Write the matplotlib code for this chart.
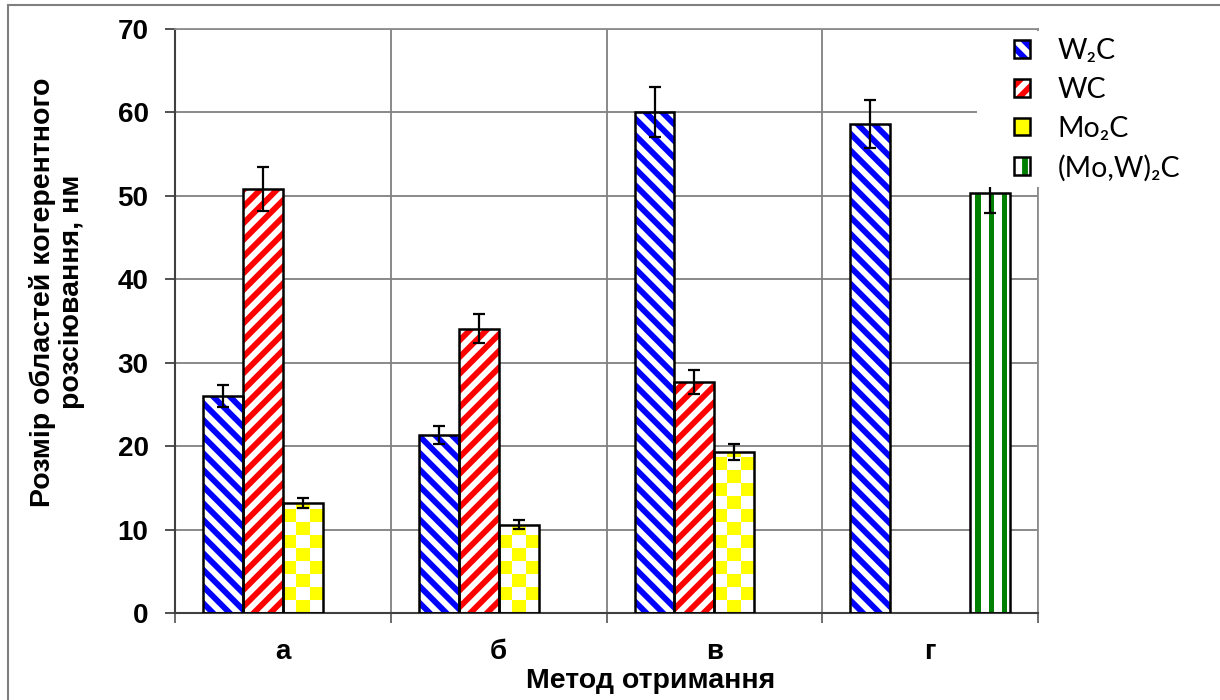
import numpy as np
import matplotlib
matplotlib.use("Agg")
import matplotlib.pyplot as plt
from matplotlib.patches import Rectangle
from matplotlib.colors import ListedColormap
from matplotlib.legend_handler import HandlerTuple

# розмір ОКР (нм) для кожного методу отримання
categories = ['а', 'б', 'в', 'г']
w2c = [26.0, 21.3, 60.0, 58.6]
w2c_err = [1.3, 1.1, 3.0, 2.9]
wc = [50.8, 34.1, 27.7, None]
wc_err = [2.6, 1.7, 1.4, None]
mo2c = [13.2, 10.6, 19.3, None]
mo2c_err = [0.6, 0.5, 1.0, None]
mow2c = [None, None, None, 50.4]
mow2c_err = [None, None, None, 2.5]

labels = ['W\u2082C', 'WC', 'Mo\u2082C', '(Mo,W)\u2082C']

plt.rcParams['font.family'] = ['Liberation Sans', 'DejaVu Sans']
plt.rcParams['hatch.linewidth'] = 4.2

fig = plt.figure(figsize=(12.2, 7), dpi=100)
ax = fig.add_axes([175 / 1220, 1 - 613 / 700, 863 / 1220, 584 / 700])

# рамка навколо діаграми
fig.patches.append(Rectangle((8 / 1220, -0.1), 1.2, 1 - 5 / 700 + 0.1,
                             transform=fig.transFigure, fill=False,
                             edgecolor='#7f7f7f', linewidth=1.5))

width = 0.185
x_pos = np.arange(len(categories))

series = [
    (w2c, w2c_err, '#0000ff', '\\\\'),
    (wc, wc_err, '#ff0000', '//'),
    (mo2c, mo2c_err, '#ffff00', 'checker'),
    (mow2c, mow2c_err, '#008000', 'vstripes'),
]


def textured(rect, arr, color, top):
    # заливка стовпчика візерунком, обрізаним по його контуру
    x0 = rect.get_x()
    im = ax.imshow(arr, extent=(x0, x0 + width, 0, top), origin='lower',
                   cmap=ListedColormap(['white', color]), vmin=0, vmax=1,
                   aspect='auto', interpolation='nearest', zorder=2)
    im.set_clip_path(rect)


cell_h = 1.55  # висота клітинки шахового візерунку
handles = []
for k, (vals, errs, color, hatch) in enumerate(series):
    idx = [i for i, v in enumerate(vals) if v is not None]
    x = x_pos[idx] + (k - 1.5) * width
    h = [vals[i] for i in idx]
    e = [errs[i] for i in idx]
    if hatch == 'checker':
        base = ax.bar(x, h, width, facecolor='white', linewidth=0, zorder=2)
        for rect in base.patches:
            nrows = int(np.ceil(rect.get_height() / cell_h))
            arr = np.add.outer(np.arange(nrows), np.arange(3)) % 2
            textured(rect, arr, color, nrows * cell_h)
        h1 = Rectangle((0, 0), 1, 1, facecolor=color, linewidth=0)
    elif hatch == 'vstripes':
        base = ax.bar(x, h, width, facecolor='white', linewidth=0, zorder=2)
        stripes = np.tile([0, 0, 1, 1, 0], 3)[None, :]
        for rect in base.patches:
            textured(rect, stripes, color, rect.get_height())
        h1 = Rectangle((0, 0), 1, 1, facecolor='white', edgecolor=color,
                       hatch='|', linewidth=0)
    else:
        ax.bar(x, h, width, facecolor='white', edgecolor=color, hatch=hatch,
               linewidth=0, zorder=2)
        h1 = Rectangle((0, 0), 1, 1, facecolor='white', edgecolor=color,
                       hatch=hatch, linewidth=0)
    ax.bar(x, h, width, fill=False, edgecolor='black', linewidth=1.8, zorder=3)
    ax.errorbar(x, h, yerr=e, fmt='none', ecolor='black', elinewidth=1.6,
                capsize=4, capthick=1.6, zorder=4)
    h2 = Rectangle((0, 0), 1, 1, fill=False, edgecolor='black', linewidth=1.8)
    handles.append((h1, h2))

ax.set_xlim(-0.5, 3.5)
ax.set_ylim(0, 70)
ax.set_yticks(np.arange(0, 71, 10))
ax.set_xticks(x_pos)
ax.set_xticklabels(categories)
ax.set_xticks(np.arange(-0.5, 4, 1), minor=True)
ax.tick_params(axis='x', which='major', length=0, pad=19, labelsize=20)
ax.tick_params(axis='x', which='minor', length=7, width=1.2, color='#555555')
ax.tick_params(axis='y', length=7, width=1.2, color='#333333', pad=12, labelsize=20)
for t in ax.get_xticklabels() + ax.get_yticklabels():
    t.set_fontweight('bold')

ax.yaxis.grid(True, color='#808080', linewidth=1.3)
ax.xaxis.grid(True, which='minor', color='#808080', linewidth=1.3)
ax.set_axisbelow(True)
for side in ['top', 'right']:
    ax.spines[side].set_color('#8c8c8c')
    ax.spines[side].set_linewidth(1.3)
for side in ['left', 'bottom']:
    ax.spines[side].set_color('#404040')
    ax.spines[side].set_linewidth(1.5)

ax.set_ylabel('Розмір областей когерентного\nрозсіювання, нм', fontsize=20.5,
              fontweight='bold', linespacing=1.15)
ax.yaxis.set_label_coords((57 - 175) / 863, (613 - 292) / 584)
ax.yaxis.label.set_va('center')
ax.set_xlabel('Метод отримання', fontsize=20.5, fontweight='bold')
ax.xaxis.set_label_coords((651 - 175) / 863, (613 - 681) / 584)
ax.xaxis.label.set_va('center')

# біле поле під легендою
ax.add_patch(Rectangle((977 / 1220, 1 - 187 / 700), 0.15, (187 - 31) / 700,
                       transform=fig.transFigure, facecolor='white',
                       edgecolor='none', clip_on=False, zorder=4.5))
leg = ax.legend(handles, labels, handler_map={tuple: HandlerTuple(ndivide=1)},
                loc='upper left', bbox_to_anchor=(1014 / 1220, 1 - 38 / 700),
                bbox_transform=fig.transFigure, frameon=False,
                prop={'family': ['Lato', 'DejaVu Sans'], 'size': 20.5},
                handlelength=0.57, handleheight=0.57, handletextpad=0.95,
                labelspacing=0.45, borderpad=0, borderaxespad=0)
leg.set_zorder(5)

fig.savefig('out.png', dpi=100)
